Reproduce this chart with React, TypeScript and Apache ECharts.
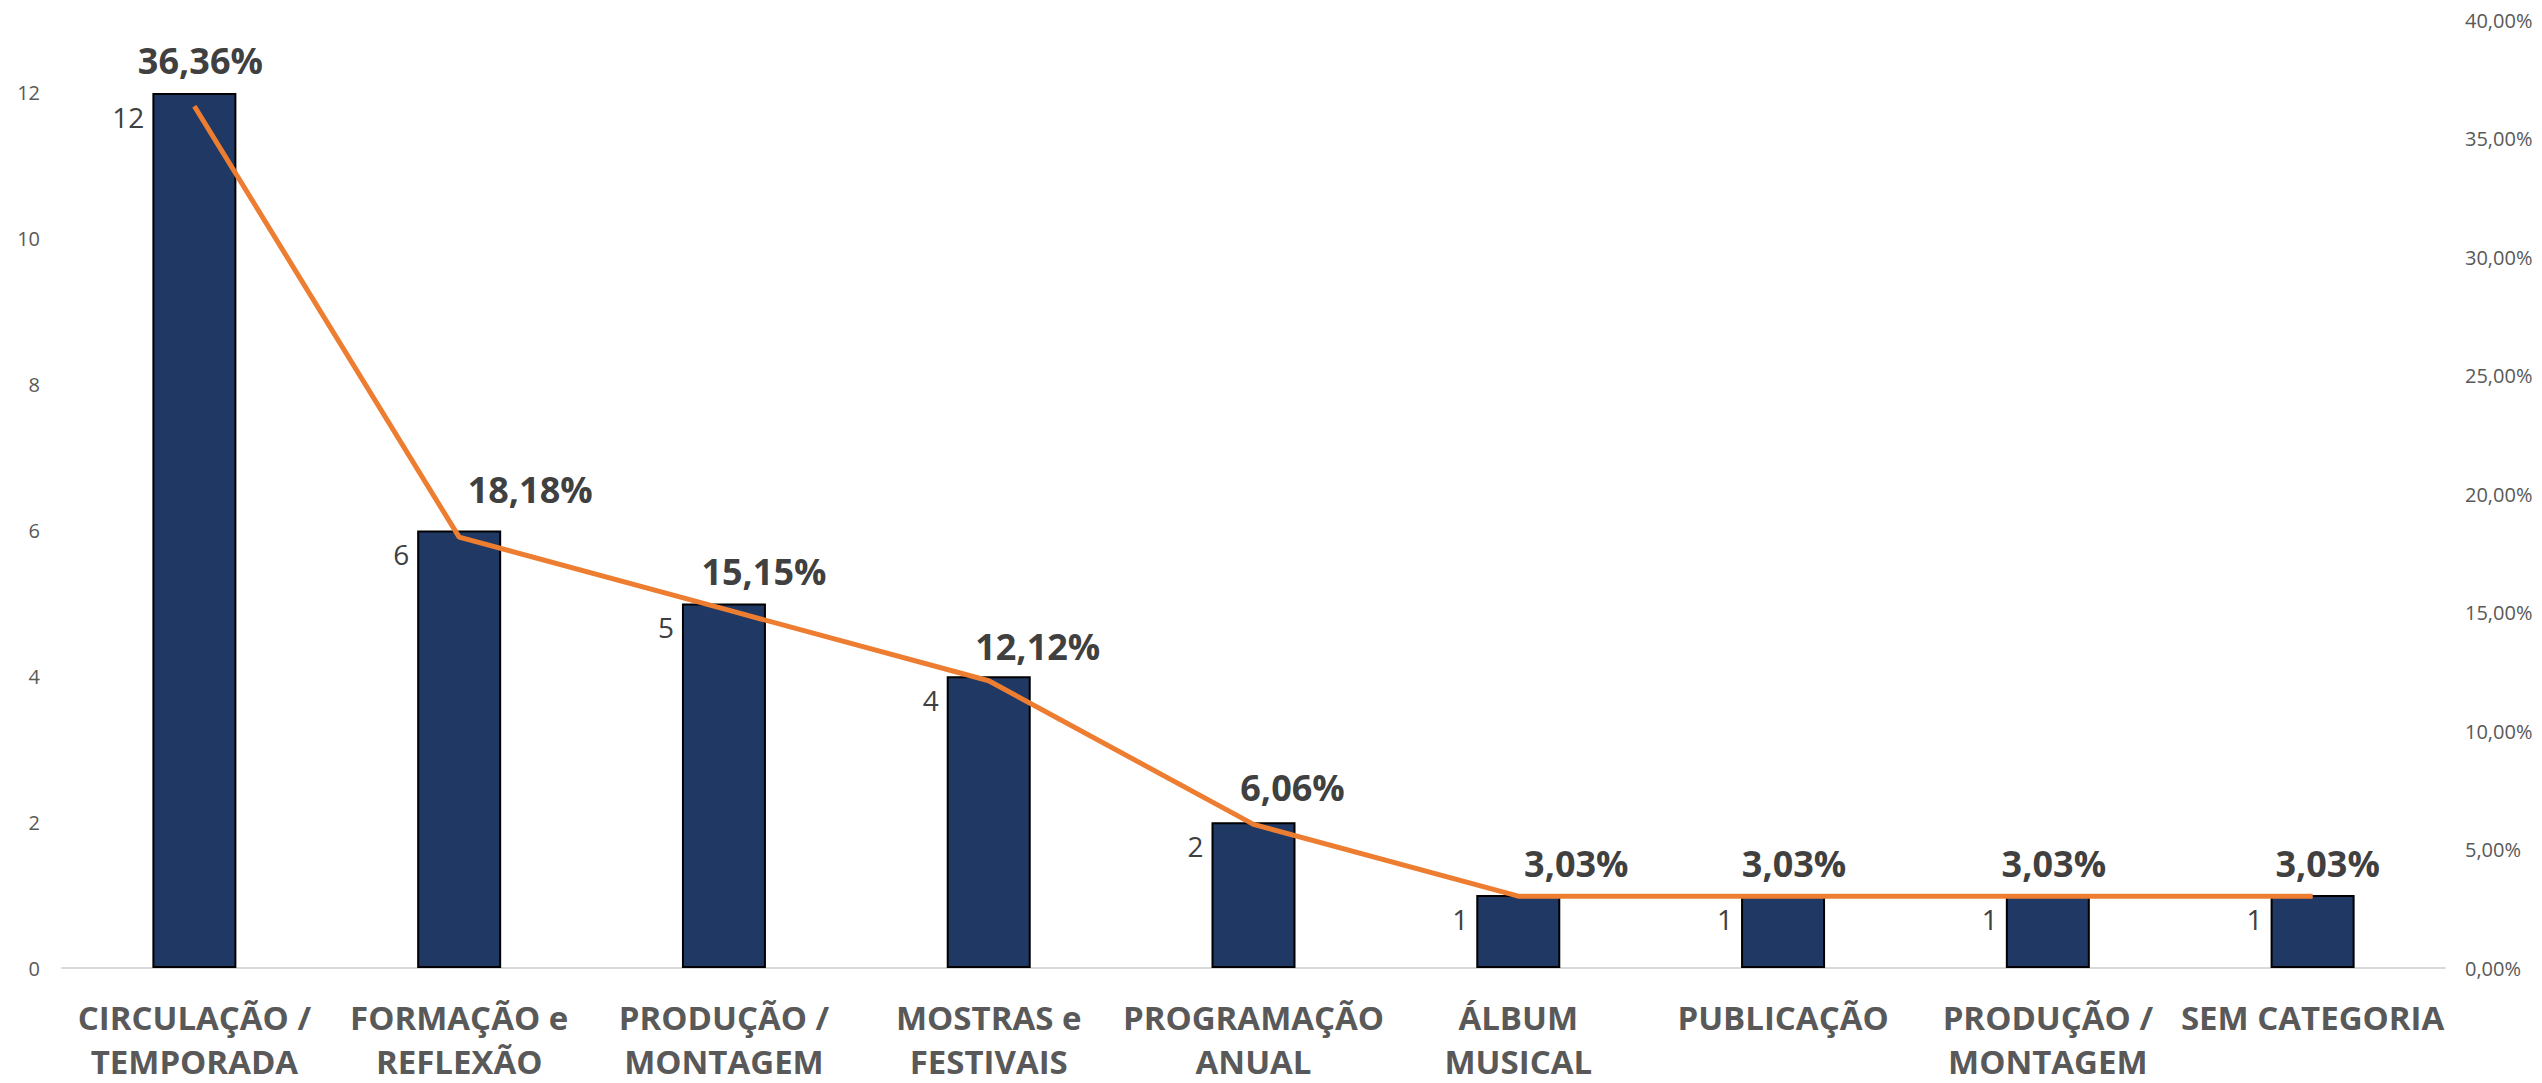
import React, { useEffect, useRef } from "react";
import * as echarts from "echarts";

const categories = [
  "CIRCULAÇÃO /\nTEMPORADA",
  "FORMAÇÃO e\nREFLEXÃO",
  "PRODUÇÃO /\nMONTAGEM",
  "MOSTRAS e\nFESTIVAIS",
  "PROGRAMAÇÃO\nANUAL",
  "ÁLBUM\nMUSICAL",
  "PUBLICAÇÃO",
  "PRODUÇÃO /\nMONTAGEM",
  "SEM CATEGORIA",
];
const counts = [12, 6, 5, 4, 2, 1, 1, 1, 1];
const percents = [36.36, 18.18, 15.15, 12.12, 6.06, 3.03, 3.03, 3.03, 3.03];
const leftTicks = { min: 0, max: 13, interval: 2 };
const rightTicks = { min: 0, max: 40, interval: 5 };

// label placement (layout only)
const pctLabelOffsets: [number, number][] = [
  [6, -25],
  [71, -27],
  [40, -17],
  [49, -14],
  [39, -16],
  [58, -12],
  [11, -12],
  [6, -12],
  [15, -12],
];

const FONT = "'Open Sans', 'Noto Sans', sans-serif";

export default function App() {
  const ref = useRef<HTMLDivElement>(null);
  useEffect(() => {
    document.body.style.margin = "0";
    const chart = echarts.init(ref.current!, null, { renderer: "svg" });
    chart.setOption({
      animation: false,
      backgroundColor: "#ffffff",
      textStyle: { fontFamily: FONT },
      grid: { left: 62, right: 97, top: 20, bottom: 110, containLabel: false },
      xAxis: {
        type: "category",
        data: categories,
        axisLine: { show: true, lineStyle: { color: "#D9D9D9", width: 2 } },
        axisTick: { show: false },
        axisLabel: {
          interval: 0,
          color: "#595959",
          fontFamily: FONT,
          fontWeight: "bold",
          fontSize: 33,
          lineHeight: 44,
          margin: 27,
        },
      },
      yAxis: [
        {
          type: "value",
          min: leftTicks.min,
          max: leftTicks.max,
          interval: leftTicks.interval,
          splitLine: { show: false },
          axisLine: { show: false },
          axisTick: { show: false },
          axisLabel: {
            color: "#595959",
            fontFamily: FONT,
            fontSize: 20,
            margin: 22,
            formatter: (v: number) => (v === leftTicks.max ? "" : String(v)),
          },
        },
        {
          type: "value",
          min: rightTicks.min,
          max: rightTicks.max,
          interval: rightTicks.interval,
          splitLine: { show: false },
          axisLine: { show: false },
          axisTick: { show: false },
          axisLabel: {
            color: "#595959",
            fontFamily: FONT,
            fontSize: 20,
            margin: 20,
            formatter: (v: number) => v.toFixed(2).replace(".", ",") + "%",
          },
        },
      ],
      series: [
        {
          type: "bar",
          yAxisIndex: 0,
          data: counts,
          barWidth: 84,
          itemStyle: { color: "#203864", borderColor: "#000000", borderWidth: 2 },
          label: {
            show: true,
            position: [-8, 24],
            align: "right",
            verticalAlign: "middle",
            color: "#404040",
            fontFamily: FONT,
            fontSize: 28,
          },
          z: 2,
        },
        {
          type: "line",
          yAxisIndex: 1,
          data: percents.map((v, i) => ({
            value: v,
            label: { offset: pctLabelOffsets[i] },
          })),
          symbol: "circle",
          symbolSize: 1,
          showSymbol: true,
          lineStyle: { color: "#ED7D31", width: 5 },
          itemStyle: { color: "#ED7D31" },
          label: {
            show: true,
            position: "top",
            distance: 0,
            color: "#404040",
            fontFamily: FONT,
            fontWeight: "bold",
            fontSize: 36,
            lineHeight: 40,
            formatter: (p: any) => Number(p.value).toFixed(2).replace(".", ",") + "%",
          },
          z: 3,
        },
      ],
    });
    return () => chart.dispose();
  }, []);
  return (
    <div
      ref={ref}
      style={{ position: "fixed", left: 0, top: 0, width: 2542, height: 1083 }}
    />
  );
}
